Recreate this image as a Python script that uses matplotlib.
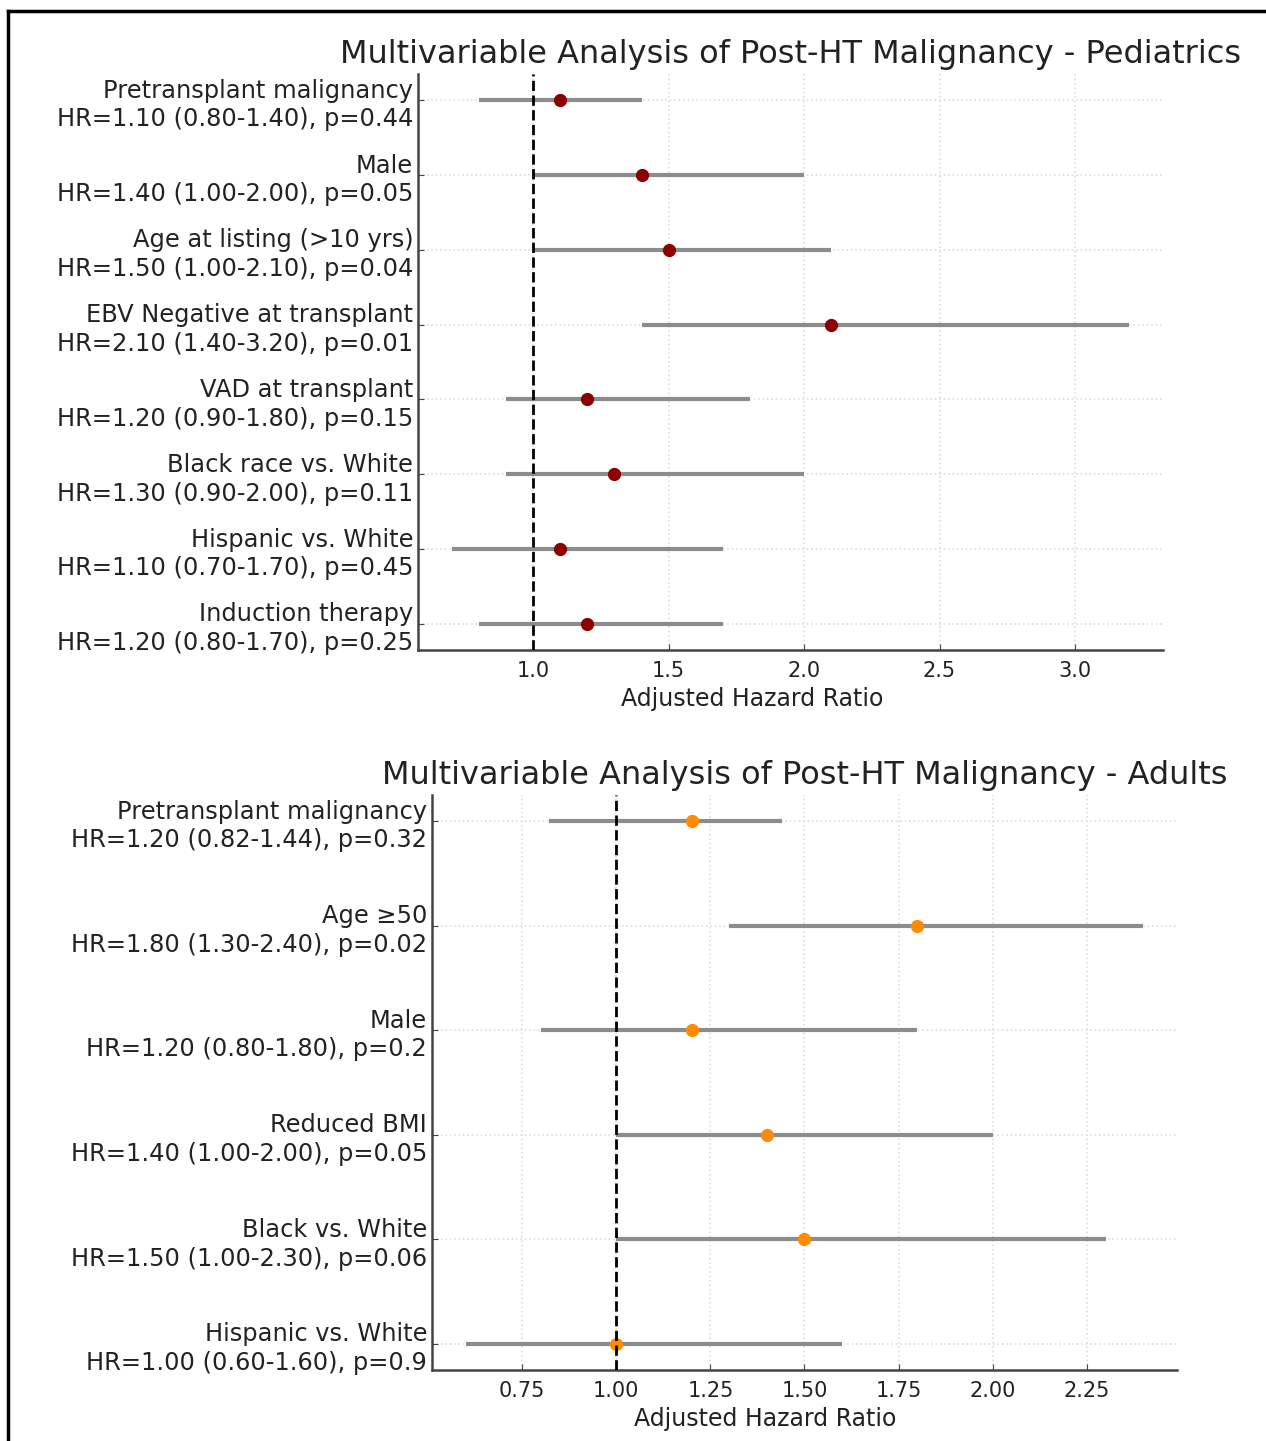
import numpy as np
import matplotlib
matplotlib.use("Agg")
from matplotlib import pyplot as plt
from matplotlib.lines import Line2D

# pediatrics
ped_names = ["Pretransplant malignancy", "Male", "Age at listing (>10 yrs)",
             "EBV Negative at transplant", "VAD at transplant",
             "Black race vs. White", "Hispanic vs. White", "Induction therapy"]
ped_hr = [1.10, 1.40, 1.50, 2.10, 1.20, 1.30, 1.10, 1.20]
ped_lo = [0.80, 1.00, 1.00, 1.40, 0.90, 0.90, 0.70, 0.80]
ped_hi = [1.40, 2.00, 2.10, 3.20, 1.80, 2.00, 1.70, 1.70]
ped_p = ["0.44", "0.05", "0.04", "0.01", "0.15", "0.11", "0.45", "0.25"]

# adults
ad_names = ["Pretransplant malignancy", "Age \u226550", "Male", "Reduced BMI",
            "Black vs. White", "Hispanic vs. White"]
ad_hr = [1.20, 1.80, 1.20, 1.40, 1.50, 1.00]
ad_lo = [0.82, 1.30, 0.80, 1.00, 1.00, 0.60]
ad_hi = [1.44, 2.40, 1.80, 2.00, 2.30, 1.60]
ad_p = ["0.32", "0.02", "0.2", "0.05", "0.06", "0.9"]

fig = plt.figure(figsize=(12.66, 14.41), dpi=100)

# frame lines of the screenshot (top and left)
fig.add_artist(Line2D([0.0063, 1.0], [0.9925, 0.9925], transform=fig.transFigure,
                      color="black", linewidth=2.5))
fig.add_artist(Line2D([0.0063, 0.0063], [0.0, 0.9925], transform=fig.transFigure,
                      color="black", linewidth=2.5))


def forest(ax, names, hr, lo, hi, p, color, title, xlab_x):
    ys = np.arange(len(names))
    labels = [f"{n}\nHR={h:.2f} ({l:.2f}-{u:.2f}), p={pv}"
              for n, h, l, u, pv in zip(names, hr, lo, hi, p)]
    ax.hlines(ys, lo, hi, color="#8c8c8c", linewidth=3, zorder=2)
    ax.plot(hr, ys, "o", color=color, markersize=8.5, zorder=3)
    ax.axvline(1, color="black", linestyle="--", linewidth=2, zorder=4)
    ax.set_yticks(ys)
    ax.set_yticklabels(labels, fontsize=17.4, color="#222222", linespacing=1.25)
    ax.invert_yaxis()
    ax.grid(True, linestyle=":", color="#dddddd", linewidth=1.2)
    ax.set_axisbelow(True)
    for s in ["top", "right"]:
        ax.spines[s].set_visible(False)
    for s in ["left", "bottom"]:
        ax.spines[s].set_color("#444444")
        ax.spines[s].set_linewidth(1.8)
    ax.tick_params(axis="both", direction="in", length=4, color="#444444")
    ax.tick_params(axis="x", labelsize=15, labelcolor="#222222", pad=8)
    ax.set_xlabel("Adjusted Hazard Ratio", fontsize=17, color="#222222")
    ax.xaxis.set_label_coords(xlab_x, -0.065)
    ax.set_title(title, fontsize=23, color="#222222", pad=8)


ax1 = fig.add_axes([0.3302, 0.5489, 0.5885, 0.3997])
forest(ax1, ped_names, ped_hr, ped_lo, ped_hi, ped_p, "#8b0000",
       "Multivariable Analysis of Post-HT Malignancy - Pediatrics", 0.448)

ax2 = fig.add_axes([0.3412, 0.0493, 0.5885, 0.3990])
forest(ax2, ad_names, ad_hr, ad_lo, ad_hi, ad_p, "#ff8c00",
       "Multivariable Analysis of Post-HT Malignancy - Adults", 0.447)

fig.savefig("out.png", dpi=100)
